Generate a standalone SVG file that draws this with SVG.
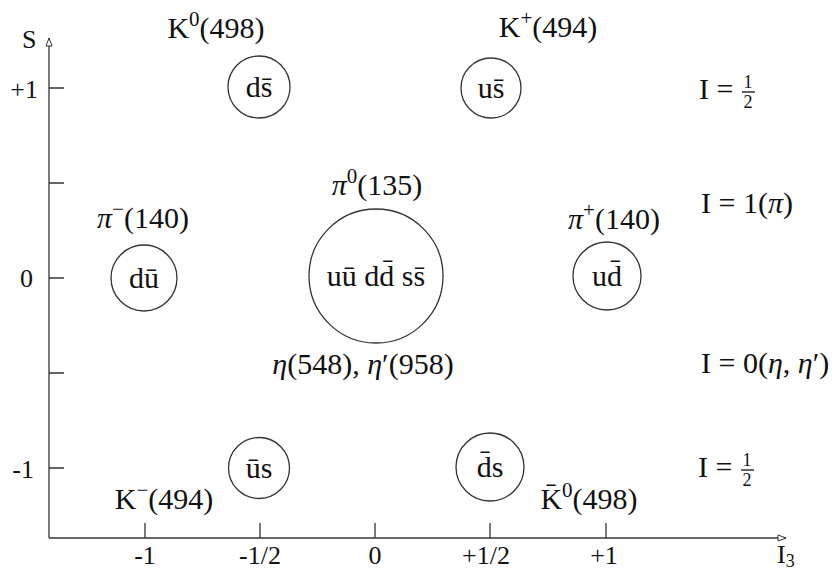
<svg xmlns="http://www.w3.org/2000/svg" width="840" height="571" viewBox="0 0 840 571">
<defs>
<style>
.ax{stroke:#333;stroke-width:1.3;fill:none}
.c{stroke:#333;stroke-width:1.3;fill:none}
.t{font-family:"Liberation Serif","Times New Roman",serif;font-size:30px;fill:#111}
.m{text-anchor:middle}
.a{font-family:"Liberation Serif","Times New Roman",serif;font-size:26px;fill:#111}
.sup{font-size:21px}
.f{font-family:"Liberation Serif","Times New Roman",serif;font-size:18px;fill:#111;text-anchor:middle}
</style>
<marker id="arr" markerWidth="10" markerHeight="8" refX="9" refY="4" orient="auto" markerUnits="userSpaceOnUse">
<path d="M1,1 L9,4 L1,7 Z" fill="#fff" stroke="#333" stroke-width="1"/>
</marker>
</defs>
<rect width="840" height="571" fill="#fff"/>
<g id="axes">
<line class="ax" x1="49" y1="538" x2="49" y2="38" marker-end="url(#arr)"/>
<line class="ax" x1="49" y1="538" x2="786" y2="538" marker-end="url(#arr)"/>
<path class="ax" d="M49,88H64M49,183H64M49,278H64M49,373H64M49,468H64"/>
<path class="ax" d="M145,523V538M260,523V538M375,523V538M490,523V538M606,523V538"/>
<text class="a" x="22" y="48">S</text>
<text class="a" x="38" y="98" text-anchor="end">+1</text>
<text class="a" x="33" y="287" text-anchor="end">0</text>
<text class="a" x="34" y="478" text-anchor="end">-1</text>
<text class="a m" x="145" y="564">-1</text>
<text class="a m" x="260" y="564">-1/2</text>
<text class="a m" x="375" y="564">0</text>
<text class="a m" x="486" y="564">+1/2</text>
<text class="a m" x="604" y="564">+1</text>
<text class="a" x="777" y="563">I<tspan dy="4" font-size="18">3</tspan></text>
</g>
<g id="ds">
<circle class="c" cx="259" cy="87" r="31"/>
<text class="t m" x="259" y="97">ds̄</text>
</g>
<g id="us">
<circle class="c" cx="491" cy="88" r="30"/>
<text class="t m" x="491" y="98">us̄</text>
</g>
<g id="du">
<circle class="c" cx="144" cy="278" r="33"/>
<text class="t m" x="144" y="288">dū</text>
</g>
<g id="center">
<circle class="c" cx="376" cy="276" r="67"/>
<text class="t m" x="376" y="286">uū dd̄ ss̄</text>
</g>
<g id="ud">
<circle class="c" cx="607" cy="276" r="34"/>
<text class="t m" x="607" y="286">ud̄</text>
</g>
<g id="us-bar">
<circle class="c" cx="259" cy="468" r="30.5"/>
<text class="t m" x="259" y="478">ūs</text>
</g>
<g id="ds-bar">
<circle class="c" cx="490" cy="467" r="34"/>
<text class="t m" x="490" y="477">d̄s</text>
</g>
<g id="labels">
<text class="t m" x="216" y="38">K<tspan class="sup" dy="-12">0</tspan><tspan dy="12">(498)</tspan></text>
<text class="t m" x="548" y="37">K<tspan class="sup" dy="-12">+</tspan><tspan dy="12">(494)</tspan></text>
<text class="t m" x="377" y="195"><tspan font-style="italic">π</tspan><tspan class="sup" dy="-12">0</tspan><tspan dy="12">(135)</tspan></text>
<text class="t m" x="143" y="228"><tspan font-style="italic">π</tspan><tspan class="sup" dy="-12">−</tspan><tspan dy="12">(140)</tspan></text>
<text class="t m" x="614" y="229"><tspan font-style="italic">π</tspan><tspan class="sup" dy="-12">+</tspan><tspan dy="12">(140)</tspan></text>
<text class="t m" x="363" y="374"><tspan font-style="italic">η</tspan>(548), <tspan font-style="italic">η</tspan>′(958)</text>
<text class="t m" x="164" y="509">K<tspan class="sup" dy="-12">−</tspan><tspan dy="12">(494)</tspan></text>
<text class="t m" x="589" y="509">K̄<tspan class="sup" dy="-12">0</tspan><tspan dy="12">(498)</tspan></text>
<text class="t" x="699" y="99">I =</text>
<text class="t" x="701" y="213">I = 1(<tspan font-style="italic">π</tspan>)</text>
<text class="t" x="701" y="373">I = 0(<tspan font-style="italic">η</tspan>, <tspan font-style="italic">η</tspan>′)</text>
<text class="t" x="698" y="477">I =</text>
<g id="frac1">
<text class="f" x="748" y="88">1</text>
<line x1="742" y1="92" x2="755" y2="92" stroke="#111" stroke-width="1.3"/>
<text class="f" x="748" y="108">2</text>
</g>
<g id="frac2">
<text class="f" x="747" y="466">1</text>
<line x1="741" y1="470" x2="754" y2="470" stroke="#111" stroke-width="1.3"/>
<text class="f" x="747" y="486">2</text>
</g>
</g>
</svg>
